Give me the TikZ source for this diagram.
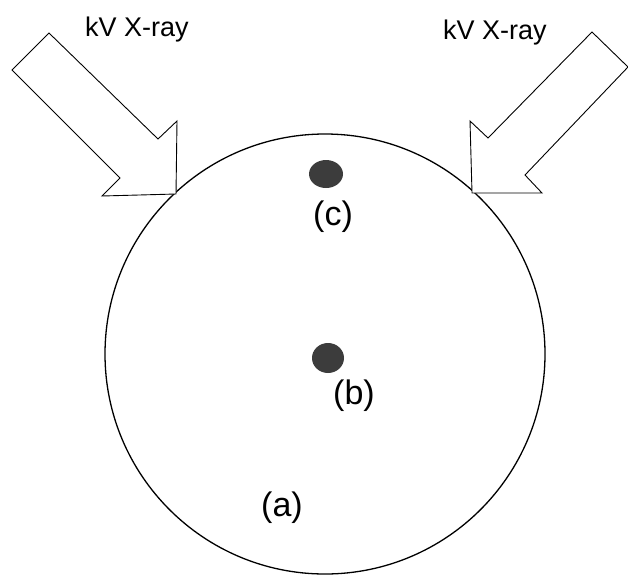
\documentclass[tikz,border=0pt]{standalone}
\usepackage{fontspec}
\setmainfont{Liberation Sans}
\definecolor{dotgray}{HTML}{3C3C3C}
\begin{document}
\begin{tikzpicture}[x=1pt,y=-1pt,
  beam/.style={draw=black,line width=0.9pt,fill=white,line join=miter},
  lbl/.style={font=\fontsize{34}{40}\selectfont,inner sep=0pt},
  ttl/.style={font=\fontsize{27}{32}\selectfont,inner sep=0pt},
  spot/.style={fill=dotgray,draw=none}]
\useasboundingbox (0,0) rectangle (628,576);
% phantom circle
\draw[line width=1.3pt] (325,354) circle[radius=220];
% left kV beam
\draw[beam] (49,33) -- (158,139) -- (177,121) -- (176,194) -- (102,196) -- (120,178) -- (12,70) -- cycle;
% right kV beam
\draw[beam] (592,32) -- (628,67) -- (525,175) -- (542,193) -- (472,193) -- (470,121) -- (488,138) -- cycle;
\node[ttl] (t1) at (137,30) {kV X-ray};
\node[ttl] (t2) at (495,33) {kV X-ray};
% points
\fill[spot] (326,174) ellipse[x radius=17,y radius=14];
\fill[spot] (328,358) ellipse[x radius=16,y radius=15];
\node[lbl] (c) at (333,217) {(c)};
\node[lbl] (b) at (354,396) {(b)};
\node[lbl] (a) at (282,508) {(a)};
\end{tikzpicture}
\end{document}
